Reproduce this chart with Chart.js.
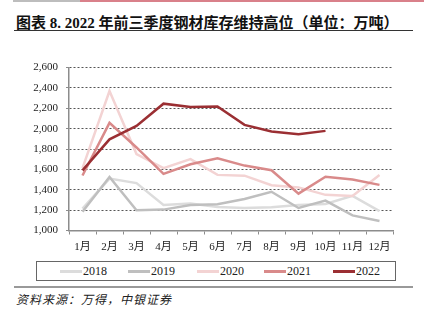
<!DOCTYPE html>
<html>
<head>
<meta charset="utf-8">
<script src="https://cdn.jsdelivr.net/npm/chart.js@4"></script>
<style>
  html, body { margin: 0; padding: 0; background: #fff; }
  #page { position: relative; width: 424px; height: 322px; overflow: hidden; }
  #topbar-gray { position: absolute; left: 13px; top: 0; width: 67px; height: 2px; background: #bdbdbd; }
  #topbar-red { position: absolute; left: 80px; top: 0; width: 344px; height: 2px; background: #d9808a; }
  #title {
    position: absolute; left: 16px; top: 11px; white-space: nowrap;
    font-family: "Liberation Serif", "Noto Sans CJK SC", serif;
    font-weight: bold; font-size: 15px; color: #111;
  }
  #title-rule { position: absolute; left: 14px; top: 30px; width: 399px; height: 1px; background: #333; }
  #chartBox { position: absolute; left: 0; top: 40px; width: 424px; height: 220px; }
  #legend {
    position: absolute; left: 36px; top: 261px; width: 360px; height: 20px;
    border: 1px solid #666; box-sizing: border-box;
  }
  .item { position: absolute; top: 0; height: 19px; display: flex; align-items: center;
    font-family: "Liberation Serif", serif; font-size: 12px; color: #222; }
  .item .swatch { width: 22px; height: 2.5px; margin-right: 1px; }
  #src-rule { position: absolute; left: 14px; top: 286px; width: 399px; height: 2px; background: #999; }
  #source {
    position: absolute; left: 16px; top: 290px; white-space: nowrap;
    font-family: "Noto Sans CJK SC", sans-serif; font-style: italic;
    font-size: 12px; letter-spacing: 1px; color: #222;
  }
</style>
</head>
<body>
<div id="page">
  <div id="topbar-gray"></div>
  <div id="topbar-red"></div>
  <div id="title">图表 8. 2022 年前三季度钢材库存维持高位（单位：万吨）</div>
  <div id="title-rule"></div>
  <div id="chartBox"><canvas id="c"></canvas></div>
  <div id="legend"></div>
  <div id="src-rule"></div>
  <div id="source">资料来源：万得，中银证券</div>
</div>
<script>
// ---- data ----
const months = ['1月', '2月', '3月', '4月', '5月', '6月', '7月', '8月', '9月', '10月', '11月', '12月'];
const years = ['2018', '2019', '2020', '2021', '2022'];

const stock2018 = [1215, 1510, 1465, 1250, 1265, 1230, 1222, 1228, 1250, 1260, 1340, 1190];
const stock2019 = [1185, 1525, 1198, 1205, 1250, 1258, 1309, 1380, 1221, 1293, 1148, 1093];
const stock2020 = [1612, 2369, 1751, 1612, 1700, 1546, 1538, 1444, 1423, 1350, 1338, 1544];
const stock2021 = [1540, 2057, 1815, 1556, 1650, 1709, 1637, 1592, 1362, 1527, 1501, 1448];
const stock2022 = [1590, 1895, 2027, 2245, 2213, 2218, 2037, 1972, 1946, 1978];

const yMin = 1000, yMax = 2600, yStep = 200;

// ---- styling ----
const lineColors = ['#dcdcdc', '#bfbfbf', '#f3d3d3', '#d98a8a', '#9b2f33'];
const series = [stock2018, stock2019, stock2020, stock2021, stock2022];

const datasets = series.map((vals, i) => ({
  label: years[i],
  data: vals,
  borderColor: lineColors[i],
  backgroundColor: lineColors[i],
  borderWidth: 2.5,
  pointRadius: 0,
  tension: 0,
  fill: false,
  order: series.length - i   // 2022 drawn on top
}));

new Chart(document.getElementById('c'), {
  type: 'line',
  data: { labels: months, datasets: datasets },
  options: {
    responsive: true,
    maintainAspectRatio: false,
    animation: false,
    layout: { padding: { left: 0, right: 31, top: 27.5, bottom: 0 } },
    plugins: { legend: { display: false }, tooltip: { enabled: false } },
    scales: {
      x: {
        offset: true,
        grid: { offset: true, drawOnChartArea: false, tickLength: 4, color: '#8c8c8c' },
        border: { color: '#8c8c8c', width: 1.5 },
        ticks: {
          padding: 6,
          color: '#222',
          font: { family: '"Liberation Serif", "Noto Sans CJK SC", serif', size: 11 },
          maxRotation: 0, autoSkip: false
        },
        afterFit: (s) => { s.height = 29.5; }
      },
      y: {
        min: yMin, max: yMax,
        grid: { color: '#555', tickColor: '#8c8c8c', tickLength: 3, tickBorderDash: [] },
        border: { color: '#8c8c8c', width: 1.5, dash: [2, 2] },
        ticks: {
          stepSize: yStep,
          padding: 8,
          color: '#222',
          font: { family: '"Liberation Serif", serif', size: 11 },
          callback: (v) => v.toLocaleString('en-US')
        },
        afterFit: (s) => { s.width = 69; }
      }
    }
  }
});

// ---- legend box (HTML) ----
const legend = document.getElementById('legend');
const legendLeft = [23, 91, 160, 227, 296];
years.forEach((y, i) => {
  const it = document.createElement('div');
  it.className = 'item';
  it.style.left = legendLeft[i] + 'px';
  const sw = document.createElement('span');
  sw.className = 'swatch';
  sw.style.background = lineColors[i];
  const tx = document.createElement('span');
  tx.textContent = y;
  it.appendChild(sw);
  it.appendChild(tx);
  legend.appendChild(it);
});
</script>
</body>
</html>
